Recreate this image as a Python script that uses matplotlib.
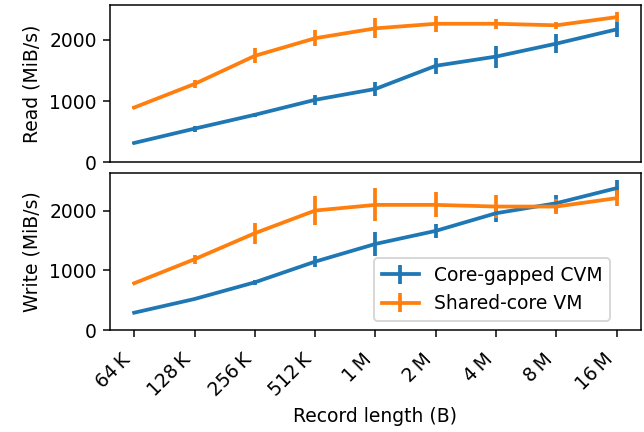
import matplotlib
matplotlib.use("Agg")
import matplotlib.pyplot as plt

# record lengths (categorical positions)
labels = ["64\u2009K", "128\u2009K", "256\u2009K", "512\u2009K", "1\u2009M",
          "2\u2009M", "4\u2009M", "8\u2009M", "16\u2009M"]

# read throughput (MiB/s) and error half-widths
read_cvm = [314, 548, 775, 1020, 1198, 1577, 1728, 1940, 2173]
read_cvm_err = [15, 50, 35, 80, 120, 135, 180, 157, 122]
read_vm = [894, 1280, 1740, 2028, 2190, 2265, 2265, 2240, 2374]
read_vm_err = [20, 65, 122, 130, 163, 135, 81, 57, 87]

# write throughput (MiB/s) and error half-widths
write_cvm = [291, 521, 801, 1148, 1445, 1664, 1960, 2128, 2381]
write_cvm_err = [10, 15, 42, 98, 196, 118, 140, 140, 140]
write_vm = [785, 1188, 1625, 2005, 2100, 2100, 2072, 2072, 2213]
write_vm_err = [20, 78, 174, 244, 277, 210, 196, 126, 134]

x = list(range(len(labels)))

DPI = 135
fig, (ax1, ax2) = plt.subplots(2, 1, sharex=True, figsize=(644 / DPI, 432 / DPI), dpi=DPI)
fig.subplots_adjust(left=0.171, right=0.995, top=0.988, bottom=0.236, hspace=0.07)

kw = dict(lw=2, elinewidth=2)
ax1.errorbar(x, read_cvm, yerr=read_cvm_err, color="#1f77b4", **kw)
ax1.errorbar(x, read_vm, yerr=read_vm_err, color="#ff7f0e", **kw)
ax2.errorbar(x, write_cvm, yerr=write_cvm_err, color="#1f77b4", label="Core-gapped CVM", **kw)
ax2.errorbar(x, write_vm, yerr=write_vm_err, color="#ff7f0e", label="Shared-core VM", **kw)

ax1.set_ylim(bottom=0)
ax2.set_ylim(bottom=0)
ax1.set_yticks([0, 1000, 2000])
ax2.set_yticks([0, 1000, 2000])
ax1.set_ylabel("Read (MiB/s)")
ax2.set_ylabel("Write (MiB/s)")
ax1.tick_params(axis="x", bottom=False)

ax2.set_xticks(x)
ax2.set_xticklabels(labels, rotation=45, ha="right")
ax2.tick_params(axis="x", pad=7)
ax2.set_xlabel("Record length (B)")
ax2.legend(loc="lower right", bbox_to_anchor=(0.96, 0))

fig.align_ylabels([ax1, ax2])
fig.savefig("out.png", dpi=DPI)
